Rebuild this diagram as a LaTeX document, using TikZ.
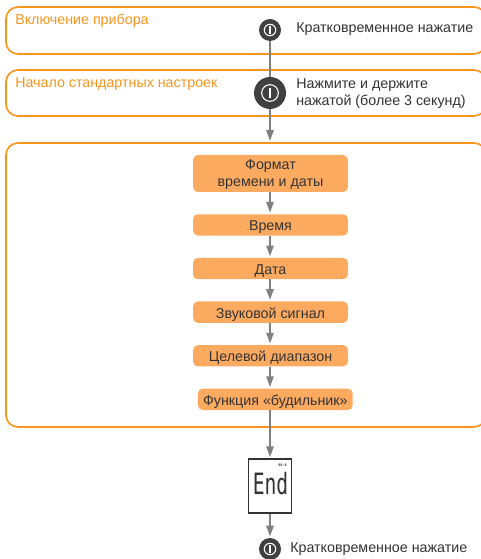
\documentclass[tikz,border=0pt]{standalone}
\usepackage{graphicx}
\usepackage{fontspec}
\setmainfont{Liberation Sans}
\newfontfamily\lcdfont{DejaVu Sans Mono}
\usetikzlibrary{positioning,arrows.meta}
\definecolor{frameorange}{HTML}{F7941E}
\definecolor{stepfill}{HTML}{FBAA5F}
\definecolor{inktext}{HTML}{333333}
\definecolor{buttondark}{HTML}{404040}
\definecolor{arrowgray}{HTML}{808080}

\begin{document}
\begin{tikzpicture}[x=0.75pt,y=-0.75pt,node distance=16.3pt,
	>={Triangle[width=5.5pt,length=8pt]},
	every node/.style={font=\fontsize{10.7}{12.75}\selectfont,text=inktext},
	frame node/.style={draw=frameorange,line width=1.2pt,rounded corners=9pt,minimum width=360pt,inner sep=0pt},
	title node/.style={anchor=west,text=frameorange,inner sep=0pt},
	note node/.style={anchor=west,align=left,inner sep=0pt},
	step node/.style={fill=stepfill,rounded corners=3.5pt,minimum width=116pt,inner sep=0pt,align=center},
	line node/.style={step node,minimum height=16pt,text height=9.5pt,text depth=0.5pt},
	power node/.style={circle,fill=buttondark,minimum size=#1,inner sep=0pt,path picture={
		\draw[white,line width=0.8pt] (path picture bounding box.center) circle (0.26*#1);
		\draw[white,line width=0.9pt] ([yshift=0.17*#1]path picture bounding box.center) -- ([yshift=-0.17*#1]path picture bounding box.center);}},
	link/.style={draw=arrowgray,line width=1.1pt},
	flow/.style={link,->,shorten >=1pt}]

	\useasboundingbox (0,0) rectangle (480,559);

	% frames
	\node[frame node,minimum height=35.25pt] (startframe) at (246,30.5) {};
	\node[frame node,minimum height=34.5pt] (setupframe) at (246,93) {};
	\node[frame node,minimum height=213pt] (stepsframe) at (246,285) {};

	\node[title node] (starttitle) at (15,21) {Включение прибора};
	\node[title node] (setuptitle) at (15,84) {Начало стандартных настроек};

	% buttons
	\node[power node=16.5pt] (press) at (270,30) {};
	\node[power node=24pt] (hold) at (270,93) {};
	\node[power node=16.5pt] (off) at (270,549) {};

	\node[note node] (presstext) at (296,29.5) {Кратковременное нажатие};
	\node[note node] (holdtext) at (296,94) {Нажмите и держите\\нажатой (более 3 секунд)};
	\node[note node] (offtext) at (290,549) {Кратковременное нажатие};

	% steps
	\node[step node,minimum height=27.75pt] (format) at (270.5,173.5) {\rule{0pt}{9.5pt}Формат\\времени и даты};
	\node[line node,below=of format] (time) {Время};
	\node[line node,below=of time] (date) {Дата};
	\node[line node,below=of date] (sound) {Звуковой сигнал};
	\node[line node,below=of sound] (target) {Целевой диапазон};
	\node[line node,below=of target,xshift=3.6pt] (alarm) {Функция «будильник»};

	% display
	\node[draw=black!80,line width=0.8pt,fill=white,minimum width=32.5pt,minimum height=40.5pt,inner sep=0pt] (display) at (270,486) {};
	\node[inner sep=0pt] (endtext) at (270.5,484) {\lcdfont\fontsize{22}{22}\selectfont\scalebox{0.67}[1]{End}};
	\node[inner sep=0pt] (lcdmark) at (282.5,465.5) {\lcdfont\fontsize{2.6}{3}\selectfont\textbf{88-8}};

	% connectors
	\draw[link] (press) -- (hold);
	\draw[flow] (hold) -- (stepsframe.north -| hold);
	\draw[flow] (format.south -| hold) -- (time.north -| hold);
	\draw[flow] (time.south -| hold) -- (date.north -| hold);
	\draw[flow] (date.south -| hold) -- (sound.north -| hold);
	\draw[flow] (sound.south -| hold) -- (target.north -| hold);
	\draw[flow] (target.south -| hold) -- (alarm.north -| hold);
	\draw[flow] (alarm.south -| hold) -- (display);
	\draw[flow] (display) -- (off);
\end{tikzpicture}
\end{document}
